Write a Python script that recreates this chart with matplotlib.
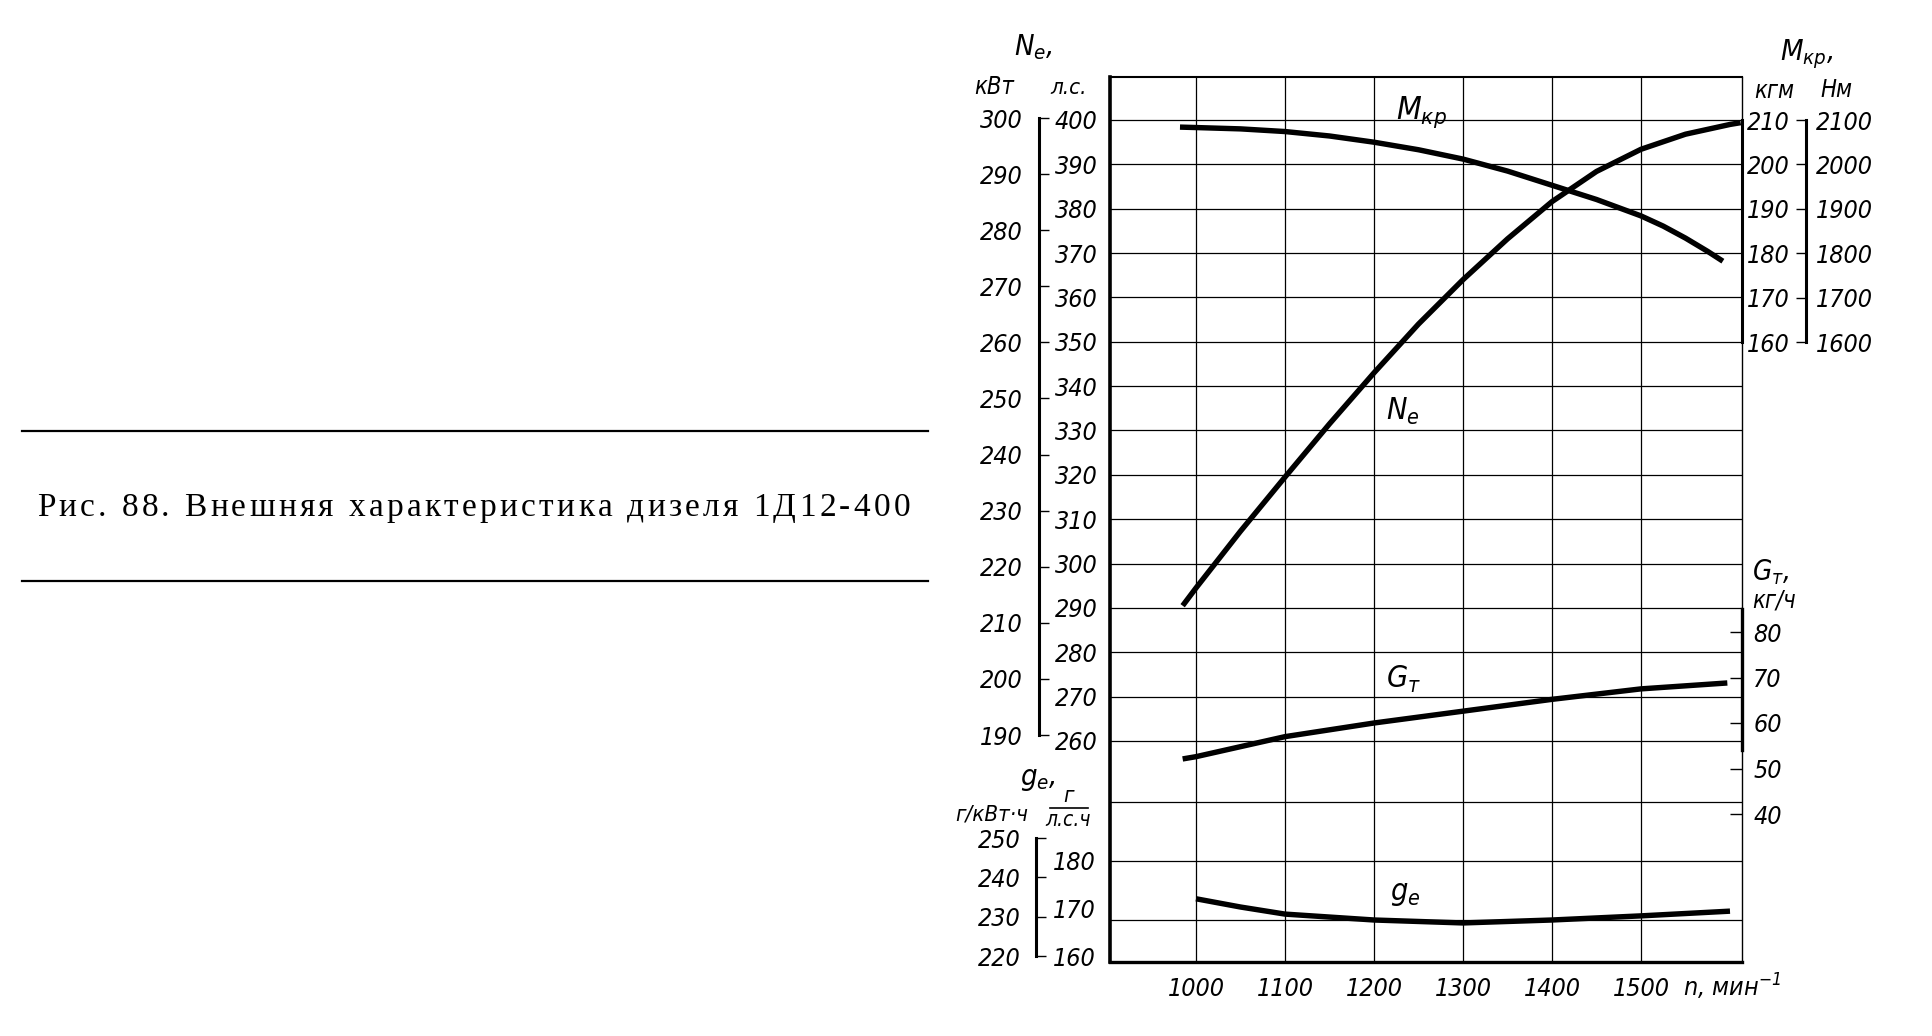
import matplotlib
matplotlib.use('Agg')
import matplotlib.pyplot as plt
from matplotlib.lines import Line2D

W, H = 1933, 1036
AX_LEFT, AX_RIGHT, AX_TOP, AX_BOT = 1110, 1742, 77, 962

# ---- values ----
x_ticks = [1000, 1100, 1200, 1300, 1400, 1500]

ne_rpm = [985, 1000, 1050, 1100, 1150, 1200, 1250, 1300, 1350, 1400, 1450, 1500, 1550, 1600, 1612]
ne_hp = [290.5, 294.5, 307.3, 319.5, 331.5, 343.0, 354.0, 364.0, 373.2, 381.6, 388.4, 393.4, 396.8, 399.0, 399.4]

mkp_rpm = [982, 1000, 1050, 1100, 1150, 1200, 1250, 1300, 1350, 1400, 1450, 1500, 1525, 1550, 1575, 1592]
mkp_kgm = [208.4, 208.3, 208.0, 207.4, 206.4, 205.0, 203.3, 201.2, 198.5, 195.3, 192.1, 188.4, 186.1, 183.4, 180.4, 178.2]

gt_rpm = [985, 1000, 1100, 1200, 1300, 1400, 1500, 1597]
gt_kgh = [52.1, 52.6, 57.0, 60.0, 62.6, 65.2, 67.5, 68.8]

ge_rpm = [1000, 1050, 1100, 1200, 1300, 1400, 1500, 1600]
ge_ghph = [173.6, 172.2, 171.0, 170.0, 169.5, 170.0, 170.7, 171.5]

hp_ticks = list(range(260, 401, 10))
kw_ticks = list(range(190, 301, 10))
kgm_ticks = [160, 170, 180, 190, 200, 210]
nm_ticks = [1600, 1700, 1800, 1900, 2000, 2100]
gt_ticks = [40, 50, 60, 70, 80]
ge_grid = [170, 180, 190]
ge_hp_ticks = [160, 170, 180]
ge_kw_ticks = [220, 230, 240, 250]

caption = 'Рис. 88. Внешняя характеристика дизеля 1Д12-400'

plt.rcParams['font.family'] = 'DejaVu Sans'
plt.rcParams['font.style'] = 'oblique'
plt.rcParams['font.stretch'] = 'condensed'
plt.rcParams['mathtext.fontset'] = 'custom'
plt.rcParams['mathtext.it'] = 'DejaVu Sans:style=oblique:stretch=condensed'
plt.rcParams['mathtext.rm'] = 'DejaVu Sans:style=oblique:stretch=condensed'


def fx(px):
    return px / W


def fy(py):
    return 1 - py / H


def lim(v1, y1, v2, y2):
    # axis limits so that value v1 sits at pixel row y1 and v2 at y2
    k = (v1 - v2) / (y2 - y1)
    return v2 - (AX_BOT - y2) * k, v1 + (y1 - AX_TOP) * k


fig = plt.figure(figsize=(W / 100, H / 100), dpi=100)
fig.patch.set_facecolor('white')

TS = 18  # tick label size
CURVE = dict(color='black', lw=3.9, solid_capstyle='butt', solid_joinstyle='round')

# main grid + Ne
ax = fig.add_axes([fx(AX_LEFT), fy(AX_BOT), (AX_RIGHT - AX_LEFT) / W, (AX_BOT - AX_TOP) / H])
k_x = 500 / (1641 - 1196)
ax.set_xlim(1000 - (1196 - AX_LEFT) * k_x, 1500 + (AX_RIGHT - 1641) * k_x)
hp_lim = lim(400, 120, 260, 741)
ax.set_ylim(hp_lim)
ax.set_xticks(x_ticks)
ax.set_yticks(hp_ticks)
ax.tick_params(axis='both', length=0)
ax.tick_params(axis='y', labelleft=False)
ax.tick_params(axis='x', pad=11, labelsize=TS)
ax.grid(True, color='black', linewidth=0.9)
ax.set_axisbelow(True)
ax.spines['left'].set_linewidth(2.6)
ax.spines['bottom'].set_linewidth(2.4)
ax.spines['top'].set_linewidth(1.5)
ax.spines['right'].set_linewidth(1.0)
ax.plot(ne_rpm, ne_hp, **CURVE)


def twin(lims):
    t = ax.twinx()
    t.set_ylim(lims)
    for s in t.spines.values():
        s.set_visible(False)
    t.set_yticks([])
    return t


# torque
ax_m = twin(lim(210, 120, 160, 342))
ax_m.spines['right'].set_visible(True)
ax_m.spines['right'].set_bounds(160, 210)
ax_m.spines['right'].set_linewidth(2.2)
ax_m.plot(mkp_rpm, mkp_kgm, **CURVE)

# fuel flow
gt_lim = lim(80, 632, 40, 814)
ax_g = twin(gt_lim)
ax_g.spines['right'].set_visible(True)
ax_g.spines['right'].set_bounds(54, 85)
ax_g.spines['right'].set_linewidth(2.4)
ax_g.set_yticks(gt_ticks)
ax_g.tick_params(axis='y', direction='in', length=9, width=1.0, pad=8, labelsize=TS)
ax_g.plot(gt_rpm, gt_kgh, **CURVE)

# specific consumption (with its own lower grid lines)
ax_e = twin(lim(190, 802, 170, 920))
ax_e.set_yticks(ge_grid)
ax_e.tick_params(axis='y', length=0, labelright=False)
ax_e.grid(True, axis='y', color='black', linewidth=0.9)
ax_e.plot(ge_rpm, ge_ghph, **CURVE)


def scale_axes(x_px, lims):
    a = fig.add_axes([fx(x_px), fy(AX_BOT), 0.5 / W, (AX_BOT - AX_TOP) / H])
    a.set_ylim(lims)
    a.set_xticks([])
    a.patch.set_visible(False)
    for s in a.spines.values():
        s.set_visible(False)
    return a


# Ne scales: kW (left labels, ticks) and л.с. (right labels)
a_kw = scale_axes(1039, lim(300, 118, 190, 735))
a_kw.spines['left'].set_visible(True)
a_kw.spines['left'].set_bounds(190, 300)
a_kw.spines['left'].set_linewidth(2.2)
a_kw.set_yticks(kw_ticks)
a_kw.tick_params(axis='y', direction='in', length=7, width=1.0, pad=12, labelsize=TS)

a_hp = scale_axes(1039, hp_lim)
a_hp.yaxis.tick_right()
a_hp.set_yticks(hp_ticks)
a_hp.tick_params(axis='y', length=0, pad=11, labelsize=TS)

# ge scales: g/kWh and g/(hp h)
a_gk = scale_axes(1036, lim(250, 838, 220, 956))
a_gk.spines['left'].set_visible(True)
a_gk.spines['left'].set_bounds(220, 250)
a_gk.spines['left'].set_linewidth(2.2)
a_gk.set_yticks(ge_kw_ticks)
a_gk.tick_params(axis='y', direction='in', length=7, width=1.0, pad=11, labelsize=TS)

a_gh = scale_axes(1036, lim(180, 861, 160, 957))
a_gh.yaxis.tick_right()
a_gh.set_yticks(ge_hp_ticks)
a_gh.tick_params(axis='y', length=0, pad=12, labelsize=TS)

# torque scales: kgm and Nm
kgm_lim = lim(210, 120, 160, 342)
a_kg = scale_axes(1806, kgm_lim)
a_kg.spines['left'].set_visible(True)
a_kg.spines['left'].set_bounds(160, 210)
a_kg.spines['left'].set_linewidth(2.2)
a_kg.set_yticks(kgm_ticks)
a_kg.tick_params(axis='y', direction='out', length=7, width=1.0, pad=5, labelsize=TS)

a_nm = scale_axes(1806, (kgm_lim[0] * 10, kgm_lim[1] * 10))
a_nm.yaxis.tick_right()
a_nm.set_yticks(nm_ticks)
a_nm.tick_params(axis='y', length=0, pad=7, labelsize=TS)


def label(px, py, s, size=17, ha='left', va='center'):
    fig.text(fx(px), fy(py), s, fontsize=size, ha=ha, va=va)


# axis headers
label(1014, 47, r'$N_e$,', 21)
label(974, 87, 'кВт', 17)
label(1050, 88, 'л.с.', 16)
label(1780, 54, r'$M_{кр}$,', 21)
label(1754, 91, 'кгм', 17)
label(1820, 90, 'Нм', 17)
label(1752, 572, r'$G_т$,', 20)
label(1752, 600, 'кг/ч', 17)
label(1020, 779, r'$g_e$,', 21)
label(955, 815, 'г/кВт·ч', 16)
# г / (л.с.·ч) written as a stacked fraction
label(1068, 796, 'г', 16, ha='center')
fig.add_artist(Line2D([fx(1050), fx(1088)], [fy(808), fy(808)],
                      transform=fig.transFigure, color='black', lw=1.2))
label(1068, 820, 'л.с.ч', 15, ha='center')

# curve names inside the grid
label(1396, 112, r'$M_{кр}$', 23)
label(1386, 411, r'$N_e$', 22)
label(1386, 679, r'$G_т$', 22)
label(1390, 893, r'$g_e$', 22)

# x axis name
label(1683, 987, r'$n$, мин$^{-1}$', TS)

# caption block on the left, letter-spaced like the print
for y_rule in (431, 581):
    fig.add_artist(Line2D([fx(22), fx(928)], [fy(y_rule), fy(y_rule)],
                          transform=fig.transFigure, color='black', lw=1.6))

renderer = fig.canvas.get_renderer()
CAP_SIZE = 24
cap_kw = dict(fontsize=CAP_SIZE, family='Liberation Serif', fontstyle='normal', fontstretch='normal')
chars, widths = [], []
for ch in caption:
    t = fig.text(0, fy(516), ch, ha='left', va='baseline', **cap_kw)
    w = t.get_window_extent(renderer).width
    if ch == ' ':
        w = CAP_SIZE * 100 / 72 * 0.25
    chars.append(t)
    widths.append(w)
gap = ((910 - 37) - sum(widths)) / (len(caption) - 1)
x = 37
for t, w in zip(chars, widths):
    t.set_x(fx(x))
    x += w + gap

fig.savefig('out.png', dpi=100, facecolor='white')
